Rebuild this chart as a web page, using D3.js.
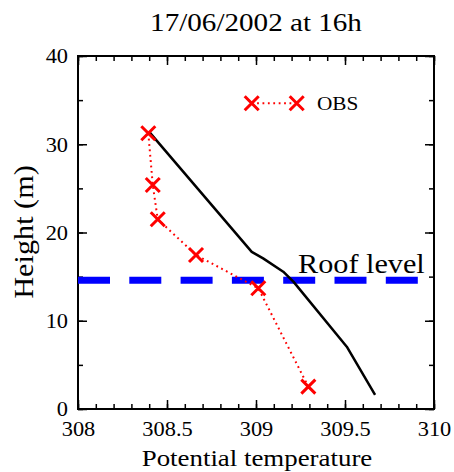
<!DOCTYPE html>
<html>
<head>
<meta charset="utf-8">
<script src="https://cdn.jsdelivr.net/npm/d3@7"></script>
<style>
  html, body { margin: 0; padding: 0; background: #fff; }
  svg { display: block; }
  text { font-family: "Liberation Serif", "Times New Roman", Times, serif; fill: #000; }
</style>
</head>
<body>
<svg id="chart" width="454" height="472"></svg>
<script>
// ---- data ----
const title = "17/06/2002 at 16h";
const xLabel = "Potential temperature";
const yLabel = "Height (m)";
const xTicks = [308, 308.5, 309, 309.5, 310];
const xTickLabels = ["308", "308.5", "309", "309.5", "310"];
const yTicks = [0, 10, 20, 30, 40];
const yTickLabels = ["0", "10", "20", "30", "40"];
const obsTemp   = [308.395, 308.42, 308.448, 308.663, 309.013, 309.294];
const obsHeight = [31.24, 25.38, 21.5, 17.45, 13.68, 2.53];
const modelTemp   = [308.40, 308.976, 309.04, 309.153, 309.21, 309.51, 309.669];
const modelHeight = [31.4, 17.8, 17.07, 15.56, 14.43, 7.06, 1.59];
const roofHeight = 14.58;
const roofLabel = "Roof level";
const legendLabel = "OBS";

// ---- layout ----
const SX = 1.12; // horizontal stretch of the reference font
const L = 78, R = 434, T = 56, B = 409;
const svg = d3.select("#chart");
const x = d3.scaleLinear().domain([308, 310]).range([L, R]);
const y = d3.scaleLinear().domain([0, 40]).range([B, T]);

function txt(px, py, str, size, anchor, rot) {
  return svg.append("text")
    .attr("transform", `translate(${px},${py})` + (rot ? ` rotate(${rot})` : "") + ` scale(${SX},1)`)
    .attr("font-size", size)
    .attr("text-anchor", anchor)
    .text(str);
}

// minor ticks
const xMinor = d3.range(0, 21).map(i => 308 + i * 0.1);
const yMinor = d3.range(0, 9).map(i => i * 5);
function styleAxis(g) {
  g.select(".domain").remove();
  g.selectAll(".tick line").attr("stroke", "#000").attr("stroke-width", 1.5);
}
svg.append("g").attr("transform", `translate(0,${B})`)
  .call(d3.axisBottom(x).tickValues(xMinor).tickSize(-5).tickFormat(""))
  .call(styleAxis);
svg.append("g").attr("transform", `translate(0,${T})`)
  .call(d3.axisTop(x).tickValues(xMinor).tickSize(-5).tickFormat(""))
  .call(styleAxis);
svg.append("g").attr("transform", `translate(${L},0)`)
  .call(d3.axisLeft(y).tickValues(yMinor).tickSize(-5).tickFormat(""))
  .call(styleAxis);
svg.append("g").attr("transform", `translate(${R},0)`)
  .call(d3.axisRight(y).tickValues(yMinor).tickSize(-5).tickFormat(""))
  .call(styleAxis);

// major ticks with labels
const xAx = svg.append("g").attr("transform", `translate(0,${B})`)
  .call(d3.axisBottom(x).tickValues(xTicks).tickSize(-9).tickFormat((d, i) => xTickLabels[i]))
  .call(styleAxis);
xAx.selectAll(".tick text")
  .attr("y", 27).attr("dy", null)
  .attr("font-size", 20)
  .attr("fill", "#000")
  .attr("transform", `scale(${SX},1)`);
svg.append("g").attr("transform", `translate(0,${T})`)
  .call(d3.axisTop(x).tickValues(xTicks).tickSize(-9).tickFormat(""))
  .call(styleAxis);
const yAx = svg.append("g").attr("transform", `translate(${L},0)`)
  .call(d3.axisLeft(y).tickValues(yTicks).tickSize(-9).tickFormat((d, i) => yTickLabels[i]))
  .call(styleAxis);
yAx.selectAll(".tick text")
  .attr("x", -10 / SX).attr("dy", "0.34em")
  .attr("font-size", 20)
  .attr("fill", "#000")
  .attr("transform", `scale(${SX},1)`);
svg.append("g").attr("transform", `translate(${R},0)`)
  .call(d3.axisRight(y).tickValues(yTicks).tickSize(-9).tickFormat(""))
  .call(styleAxis);

// frame
svg.append("rect").attr("x", L).attr("y", T).attr("width", R - L).attr("height", B - T)
  .attr("fill", "none").attr("stroke", "#000").attr("stroke-width", 2);

// roof line
svg.append("line")
  .attr("x1", x(308)).attr("x2", x(310))
  .attr("y1", y(roofHeight)).attr("y2", y(roofHeight))
  .attr("stroke", "#0000ff").attr("stroke-width", 7)
  .attr("stroke-dasharray", "32,19.3");

// model line
const line = d3.line().x(d => x(d[0])).y(d => y(d[1]));
svg.append("path")
  .attr("d", line(modelTemp.map((t, i) => [t, modelHeight[i]])))
  .attr("fill", "none").attr("stroke", "#000").attr("stroke-width", 2.5)
  .attr("stroke-linejoin", "round");

// obs dotted line + crosses
svg.append("path")
  .attr("d", line(obsTemp.map((t, i) => [t, obsHeight[i]])))
  .attr("fill", "none").attr("stroke", "#ff0000").attr("stroke-width", 2)
  .attr("stroke-dasharray", "1.8,3.6");
const cs = 7;
function cross(cx, cy) {
  svg.append("path")
    .attr("d", `M${cx - cs},${cy - cs}L${cx + cs},${cy + cs}M${cx - cs},${cy + cs}L${cx + cs},${cy - cs}`)
    .attr("stroke", "#ff0000").attr("stroke-width", 3).attr("fill", "none");
}
obsTemp.forEach((t, i) => cross(x(t), y(obsHeight[i])));

// legend
const lgY = 103.3;
svg.append("line").attr("x1", 251.7).attr("x2", 296.7).attr("y1", lgY).attr("y2", lgY)
  .attr("stroke", "#ff0000").attr("stroke-width", 2).attr("stroke-dasharray", "1.8,3.6");
cross(251.7, lgY);
cross(296.7, lgY);
txt(317, 110, legendLabel, 19, "start");

// texts
txt(256, 31, title, 26, "middle");
txt(257, 466, xLabel, 24, "middle");
txt(33, 232, yLabel, 27, "middle", -90);
txt(298, 273, roofLabel, 27, "start");
</script>
</body>
</html>
